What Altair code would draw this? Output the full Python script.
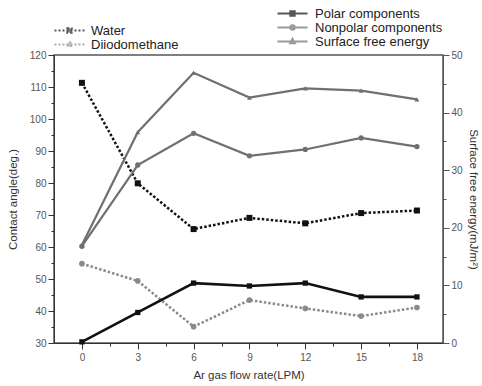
import altair as alt
import pandas as pd

flow = [0, 3, 6, 9, 12, 15, 18]
water = [111.3, 79.9, 65.6, 69.1, 67.4, 70.6, 71.4]
diiodo = [54.8, 49.4, 35.1, 43.4, 40.8, 38.4, 41.1]
polar = [0.2, 5.3, 10.4, 9.9, 10.4, 8.0, 8.0]
nonpolar = [16.8, 30.9, 36.4, 32.5, 33.6, 35.6, 34.1]
surface = [17.0, 36.6, 46.9, 42.6, 44.2, 43.8, 42.3]

left_names = ["Water", "Diiodomethane"]
right_names = ["Polar components", "Nonpolar components", "Surface free energy"]

left_df = pd.DataFrame(
    [{"flow": f, "value": v, "series": n} for n, vals in zip(left_names, [water, diiodo]) for f, v in zip(flow, vals)]
)
right_df = pd.DataFrame(
    [{"flow": f, "value": v, "series": n} for n, vals in zip(right_names, [polar, nonpolar, surface]) for f, v in zip(flow, vals)]
)

FONT = "Liberation Sans"
AXC = "#333333"
LBC = "#555555"

x_enc = alt.X(
    "flow:Q",
    scale=alt.Scale(domain=[-1.5, 19.4], nice=False, zero=False),
    axis=alt.Axis(
        title="Ar gas flow rate(LPM)",
        values=[i * 1.5 for i in range(13)],
        labelExpr="datum.value % 3 === 0 ? format(datum.value, 'd') : ''",
        tickSize={"condition": {"test": "datum.value % 3 !== 0", "value": 3}, "value": 6},
        grid=False, domainColor=AXC, tickColor=AXC, labelColor=LBC,
        labelFontSize=10, titleFontSize=11.5, labelPadding=3, titlePadding=7,
        titleColor="#333", labelFont=FONT, titleFont=FONT, titleFontWeight="normal",
    ),
)

left_axis = alt.Axis(
    title="Contact angle(deg.)", orient="left",
    values=list(range(30, 121, 5)),
    labelExpr="datum.value % 10 === 0 ? format(datum.value, 'd') : ''",
    tickSize={"condition": {"test": "datum.value % 10 !== 0", "value": 3}, "value": 6},
    grid=False, domainColor=AXC, tickColor=AXC, labelColor=LBC,
    labelFontSize=10, titleFontSize=11.5, labelPadding=2, titlePadding=11,
    titleColor="#333", labelFont=FONT, titleFont=FONT, titleFontWeight="normal",
)
right_axis = alt.Axis(
    title="Surface free energy(mJ/m²)", orient="right",
    values=list(range(0, 51, 5)),
    labelExpr="datum.value % 10 === 0 ? format(datum.value, 'd') : ''",
    tickSize={"condition": {"test": "datum.value % 10 !== 0", "value": 3}, "value": 6},
    grid=False, domainColor="#555", tickColor="#555", labelColor=LBC,
    labelFontSize=10, titleFontSize=11.5, labelPadding=2, titlePadding=5,
    titleColor="#333", labelFont=FONT, titleFont=FONT, titleFontWeight="normal",
)

yl = alt.Y("value:Q", scale=alt.Scale(domain=[30, 120], nice=False, zero=False), axis=left_axis)
yr = alt.Y("value:Q", scale=alt.Scale(domain=[0, 50], nice=False, zero=False), axis=right_axis)
yl_off = alt.Y("off:Q", scale=alt.Scale(domain=[30, 120], nice=False, zero=False), axis=left_axis)
yr_off = alt.Y("off:Q", scale=alt.Scale(domain=[0, 50], nice=False, zero=False), axis=right_axis)


def series_layers(df, name, y, color, dash, width, shape, size):
    base = alt.Chart(df).transform_filter(alt.datum.series == name)
    line_kw = dict(color=color, strokeWidth=width)
    if dash:
        line_kw["strokeDash"] = dash
    line = base.mark_line(**line_kw).encode(x=x_enc, y=y)
    pts = base.mark_point(shape=shape, filled=True, color=color, size=size, opacity=1).encode(x=x_enc, y=y)
    return [line, pts]


sq = "M-3,0H3M-0.42,-0.42H0.42V0.42H-0.42Z"
ci = "M-3,0H3M-0.42,0A0.42,0.42 0 1,0 0.42,0A0.42,0.42 0 1,0 -0.42,0Z"
tr = "M-3,0H3M0,-0.5L0.45,0.35L-0.45,0.35Z"

left_colors = ["#111111", "#8a8a8a"]
right_colors = ["#111111", "#707070", "#707070"]

left_legend = alt.Chart(left_df).transform_calculate(off="-1000").mark_point(filled=True, clip=True, size=100).encode(
    x=x_enc, y=yl_off,
    fill=alt.Fill("series:N", scale=alt.Scale(domain=left_names, range=left_colors), legend=alt.Legend(
        title=None, orient="none", legendX=9, legendY=-31, padding=0, symbolSize=100,
        symbolDash=[2, 2], symbolStrokeWidth=2.2, labelOffset=15, rowPadding=-1.5,
        labelFontSize=13, labelFont=FONT, labelColor="#222", labelLimit=300)),
    stroke=alt.Stroke("series:N", scale=alt.Scale(domain=left_names, range=left_colors)),
    shape=alt.Shape("series:N", scale=alt.Scale(domain=left_names, range=[sq, ci])),
)

right_legend = alt.Chart(right_df).transform_calculate(off="-1000").mark_point(filled=True, clip=True, size=100).encode(
    x=x_enc, y=yr_off,
    fill=alt.Fill("series:N", scale=alt.Scale(domain=right_names, range=right_colors), legend=alt.Legend(
        title=None, orient="none", legendX=232, legendY=-48, padding=0, symbolSize=100,
        symbolStrokeWidth=2.2, labelOffset=16, rowPadding=-1.5,
        labelFontSize=13, labelFont=FONT, labelColor="#222", labelLimit=300)),
    stroke=alt.Stroke("series:N", scale=alt.Scale(domain=right_names, range=right_colors)),
    shape=alt.Shape("series:N", scale=alt.Scale(domain=right_names, range=[sq, ci, tr])),
)

left = alt.layer(
    *series_layers(left_df, "Water", yl, "#111111", [2.5, 2], 2.5, "square", 36),
    *series_layers(left_df, "Diiodomethane", yl, "#8a8a8a", [2.5, 2], 2.5, "circle", 32),
    left_legend,
)
right = alt.layer(
    *series_layers(right_df, "Polar components", yr, "#111111", None, 2.6, "square", 28),
    *series_layers(right_df, "Nonpolar components", yr, "#707070", None, 2.2, "circle", 28),
    *series_layers(right_df, "Surface free energy", yr, "#707070", None, 2.2, "triangle-up", 24),
    right_legend,
)

chart = alt.layer(left, right).resolve_scale(
    y="independent", fill="independent", stroke="independent", shape="independent"
).properties(
    width=389, height=288,
    autosize=alt.AutoSizeParams(type="none"),
    padding={"left": 54, "top": 55, "right": 39, "bottom": 43},
    background="white",
).configure_view(stroke="#555555", strokeWidth=1.5)

chart.save("out.html", embed_options={"renderer": "svg", "actions": False})
